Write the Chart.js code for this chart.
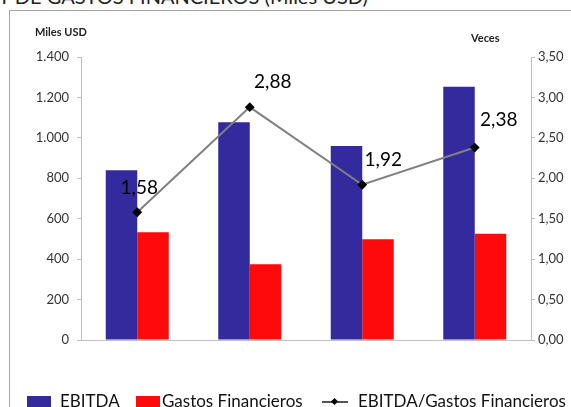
<!DOCTYPE html>
<html lang="es">
<head>
<meta charset="UTF-8">
<title>EBITDA y Gastos Financieros</title>
<script src="https://cdn.jsdelivr.net/npm/chart.js"></script>
<style>
  html, body { margin: 0; padding: 0; background: #fff; }
  body { width: 571px; height: 407px; overflow: hidden; position: relative; font-family: Lato, sans-serif; }
  #frame { position: absolute; left: 9px; top: 10px; width: 600px; height: 420px; border: 1px solid #a6a6a6; box-sizing: border-box; }
  #title { position: absolute; left: -2px; top: -16px; font-size: 20px; color: #222; white-space: nowrap; }
  #wrap { position: absolute; left: 0; top: 0; width: 571px; height: 407px; }
  .legend { position: absolute; top: 390px; left: 0; width: 600px; height: 24px; font-size: 17px; color: #111; white-space: nowrap; }
  .legend span { position: absolute; top: 0; }
  .sw { display: inline-block; position: absolute; }
</style>
</head>
<body>
<div id="title">Y DE GASTOS FINANCIEROS (Miles USD)</div>
<div id="frame"></div>
<div id="wrap"><canvas id="chart" width="571" height="407"></canvas></div>
<div class="legend">
  <i class="sw" style="left:27px;top:6px;width:24px;height:13px;background:#332a9e"></i>
  <span style="left:60px">EBITDA</span>
  <i class="sw" style="left:136px;top:6px;width:24px;height:13px;background:#fe0a0a"></i>
  <span style="left:162px">Gastos Financieros</span>
  <i class="sw" style="left:322px;top:11px;width:26px;height:2px;background:#555"></i>
  <i class="sw" style="left:332px;top:9px;width:5px;height:5px;background:#000;transform:rotate(45deg)"></i>
  <span style="left:358px">EBITDA/Gastos Financieros</span>
</div>
<script>
  const years = ["2020", "2021", "2022", "2023"];
  const ebitda = [840, 1077, 960, 1253];
  const gastos = [533, 375, 498, 526];
  const ratio = [1.58, 2.88, 1.92, 2.38];

  // label offsets relative to each point (dx, dy)
  const labelOffsets = [[2, -24], [23, -25], [21, -25], [24, -28]];

  const fmtMiles = v => v.toLocaleString('de-DE');
  const fmtVeces = v => v.toFixed(2).replace('.', ',');

  const pointLabels = {
    id: 'pointLabels',
    afterDatasetsDraw(chart) {
      const ctx = chart.ctx;
      const meta = chart.getDatasetMeta(2);
      ctx.save();
      ctx.font = '19px Lato';
      ctx.fillStyle = '#000';
      ctx.textAlign = 'center';
      ctx.textBaseline = 'middle';
      meta.data.forEach((pt, i) => {
        const o = labelOffsets[i];
        ctx.fillText(fmtVeces(ratio[i]), pt.x + o[0], pt.y + o[1]);
      });
      ctx.restore();
    }
  };

  const axisTitles = {
    id: 'axisTitles',
    afterDraw(chart) {
      const ctx = chart.ctx;
      ctx.save();
      ctx.font = 'bold 11px Lato';
      ctx.fillStyle = '#222';
      ctx.textBaseline = 'middle';
      ctx.textAlign = 'left';
      ctx.fillText('Miles USD', 35, 32);
      ctx.fillText('Veces', 471, 38);
      ctx.restore();
    }
  };

  new Chart(document.getElementById('chart'), {
    type: 'bar',
    data: {
      labels: years,
      datasets: [
        { label: 'EBITDA', data: ebitda, backgroundColor: '#332a9e', yAxisID: 'y', order: 1,
          categoryPercentage: 0.56, barPercentage: 1.0 },
        { label: 'Gastos Financieros', data: gastos, backgroundColor: '#fe0a0a', yAxisID: 'y', order: 1,
          categoryPercentage: 0.56, barPercentage: 1.0 },
        { type: 'line', label: 'EBITDA/Gastos Financieros', data: ratio, yAxisID: 'y1', order: 0,
          borderColor: '#808080', borderWidth: 2, pointStyle: 'rectRot', pointRadius: 3.5,
          pointBackgroundColor: '#000', pointBorderColor: '#000', tension: 0 }
      ]
    },
    options: {
      responsive: false,
      animation: false,
      layout: { padding: { top: 57, left: 0, right: 0, bottom: 40 } },
      plugins: { legend: { display: false }, tooltip: { enabled: false } },
      scales: {
        x: {
          grid: { display: false },
          border: { color: '#bfbfbf' },
          ticks: { font: { family: 'Lato', size: 17 }, color: '#111', padding: 20 },
          afterFit(s) { s.height = 27; }
        },
        y: {
          position: 'left', min: 0, max: 1400,
          grid: { drawOnChartArea: false, tickLength: 4, color: '#bfbfbf' },
          border: { color: '#bfbfbf' },
          ticks: { stepSize: 200, font: { family: 'Lato', size: 13 }, color: '#333', padding: 8,
                   callback: v => fmtMiles(v) },
          afterFit(s) { s.width = 81; }
        },
        y1: {
          position: 'right', min: 0, max: 3.5,
          grid: { drawOnChartArea: false, tickLength: 4, color: '#bfbfbf' },
          border: { color: '#bfbfbf' },
          ticks: { stepSize: 0.5, font: { family: 'Lato', size: 13 }, color: '#333', padding: 3,
                   callback: v => fmtVeces(v) },
          afterFit(s) { s.width = 40; }
        }
      }
    },
    plugins: [pointLabels, axisTitles]
  });
</script>
</body>
</html>
